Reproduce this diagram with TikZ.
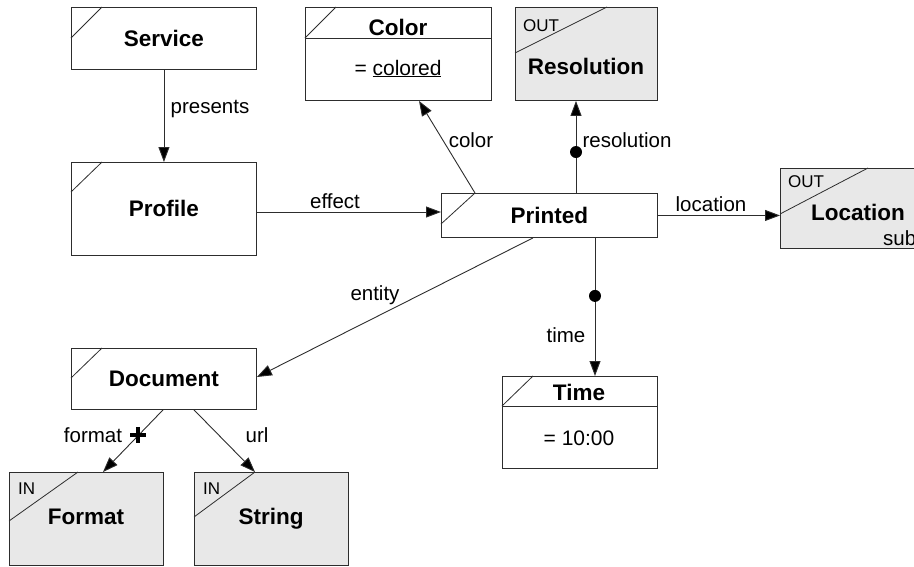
\documentclass[tikz,border=0pt]{standalone}
\usepackage{fontspec}
\setmainfont{Liberation Sans}
\usetikzlibrary{arrows.meta,calc}
\definecolor{boxgray}{RGB}{232,232,232}
\definecolor{linegray}{RGB}{45,45,45}
\begin{document}
\begin{tikzpicture}[x=1pt,y=-1pt,
  box/.style={draw=linegray, line width=0.9pt, rectangle, anchor=north west, inner sep=0pt, fill=white},
  inbox/.style={box, fill=boxgray},
  title/.style={font=\fontsize{22.5}{25}\selectfont\bfseries},
  ttl/.style={title, inner sep=0pt, anchor=base},
  lbl/.style={font=\fontsize{20.5}{23}\selectfont, inner sep=0pt, anchor=base},
  tag/.style={font=\fontsize{17}{19}\selectfont, inner sep=0pt, anchor=base west},
  conn/.style={draw=linegray, line width=0.9pt},
  arr/.style={conn, -{Triangle[length=15pt,width=11pt,fill=black]}},
  corner/.style={draw=linegray, line width=0.8pt}]
\path[use as bounding box, clip] (0,0) rectangle (914,566);

% boxes
\node[box, minimum width=185pt, minimum height=62pt, title] (service) at (71,7) {Service};
\node[box, minimum width=185pt, minimum height=93pt, title] (profile) at (71,162) {Profile};
\node[box, minimum width=186pt, minimum height=93pt] (color) at (305,7) {};
\node[inbox, minimum width=142pt, minimum height=93pt] (resolution) at (515,7) {};
\node[box, minimum width=216pt, minimum height=44pt, title] (printed) at (441,193) {Printed};
\node[inbox, minimum width=180pt, minimum height=80pt] (location) at (780,168) {};
\node[box, minimum width=185pt, minimum height=61pt, title] (document) at (71,348) {Document};
\node[box, minimum width=155pt, minimum height=92pt] (time) at (502,376) {};
\node[inbox, minimum width=154pt, minimum height=93pt] (format) at (9,472) {};
\node[inbox, minimum width=154pt, minimum height=93pt] (string) at (194,472) {};

% corner marks and dividers
\draw[corner] ($(service.north west)+(0,31)$) -- ($(service.north west)+(31,0)$);
\draw[corner] ($(profile.north west)+(0,30)$) -- ($(profile.north west)+(31,0)$);
\draw[corner] ($(color.north west)+(0,31)$) -- ($(color.north west)+(31,0)$);
\draw[conn] ($(color.north west)+(0,31)$) -- ($(color.north east)+(0,31)$);
\draw[corner] ($(resolution.north west)+(0,46)$) -- ($(resolution.north west)+(92,0)$);
\draw[corner] ($(printed.north west)+(0,31)$) -- ($(printed.north west)+(34,0)$);
\draw[corner] ($(location.north west)+(0,46)$) -- ($(location.north west)+(88,0)$);
\draw[corner] ($(document.north west)+(0,30)$) -- ($(document.north west)+(31,0)$);
\draw[corner] ($(time.north west)+(0,30)$) -- ($(time.north west)+(31,0)$);
\draw[conn] ($(time.north west)+(0,30)$) -- ($(time.north east)+(0,30)$);
\draw[corner] ($(format.north west)+(0,49)$) -- ($(format.north west)+(69,0)$);
\draw[corner] ($(string.north west)+(0,45)$) -- ($(string.north west)+(61,0)$);

% texts inside boxes
\node[ttl] (colortitle) at (398,35) {Color};
\node[lbl, font=\fontsize{21}{23}\selectfont] (colorval) at (398,75) {= \underline{colored}};
\node[tag] (resout) at (523,31) {OUT};
\node[ttl] (restitle) at (586,74) {Resolution};
\node[tag] (locout) at (788,187) {OUT};
\node[ttl] (loctitle) at (858,220) {Location};
\node[lbl, anchor=base west] (locsub) at (883,245) {sub};
\node[ttl] (timetitle) at (579,400) {Time};
\node[lbl, font=\fontsize{21}{23}\selectfont] (timeval) at (579,445) {= 10:00};
\node[tag] (fmtin) at (18,494) {IN};
\node[ttl] (fmttitle) at (86,524) {Format};
\node[tag] (strin) at (203,494) {IN};
\node[ttl] (strtitle) at (271,524) {String};

% connectors
\draw[arr] (service.south) -- (profile.north);
\draw[arr] ($(profile.north east)+(0,50)$) -- ($(printed.north west)+(0,19)$);
\draw[arr] ($(printed.north west)+(34,0)$) -- ($(color.south west)+(114,0)$);
\draw[arr] ($(printed.north west)+(135,0)$) -- ($(resolution.south west)+(61,0)$);
\fill[black] ($(printed.north west)+(135,-41)$) circle (6pt);
\draw[arr] (printed.east) -- (printed.east -| location.west);
\draw[arr] ($(printed.south west)+(92,0)$) -- ($(document.north east)+(0,29)$);
\draw[arr] ($(printed.south west)+(154,0)$) -- ($(time.north west)+(93,0)$);
\fill[black] ($(printed.south west)+(154,58)$) circle (6pt);
\draw[arr] ($(document.south west)+(92,0)$) -- ($(format.north west)+(94,0)$);
\draw[arr] ($(document.south west)+(123,0)$) -- ($(string.north west)+(61,0)$);
\coordinate (plusc) at ($(document.south west)+(67,25)$);
\draw[line width=3.5pt] ($(plusc)+(-8,0)$) -- ($(plusc)+(8,0)$);
\draw[line width=3.5pt] ($(plusc)+(0,-8)$) -- ($(plusc)+(0,8)$);

% connector labels
\node[lbl] (lpresents) at (210,113) {presents};
\node[lbl] (leffect) at (335,208) {effect};
\node[lbl] (lcolor) at (471,147) {color};
\node[lbl] (lres) at (627,147) {resolution};
\node[lbl] (lloc) at (711,211) {location};
\node[lbl] (lentity) at (375,300) {entity};
\node[lbl] (ltime) at (566,342) {time};
\node[lbl] (lformat) at (93,442) {format};
\node[lbl] (lurl) at (257,442) {url};
\end{tikzpicture}
\end{document}
